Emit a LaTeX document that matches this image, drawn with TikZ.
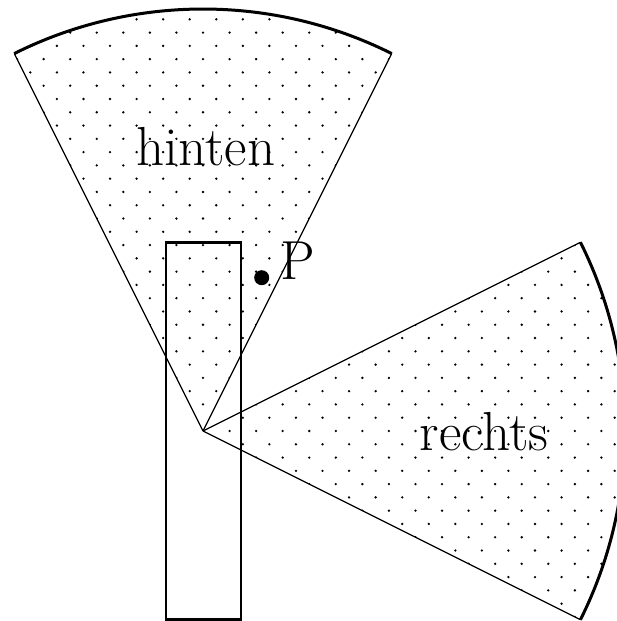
\documentclass[tikz,border=0pt]{standalone}
\newcommand\mydotgrid{%
  \foreach \i in {-16,-14,...,32} {\foreach \j in {-16,-14,...,32} {\fill ({203+\i*13.28},{190+\j*13.28}) circle (1.3pt);}}%
  \foreach \i in {-15,-13,...,31} {\foreach \j in {-15,-13,...,31} {\fill ({203+\i*13.28},{190+\j*13.28}) circle (1.3pt);}}%
}
\begin{document}
\begin{tikzpicture}[x=1pt,y=1pt,
  edge/.style={line width=1.2pt},
  rim/.style={line width=3pt},
  box/.style={line width=2.8pt},
  lbl/.style={inner sep=0pt, font=\fontsize{55}{60}\selectfont}]
\useasboundingbox (0,0) rectangle (617,621);
\clip (0,0) rectangle (617,621);
\coordinate (A) at (203,190);
% dots in sector "hinten"
\begin{scope}
  \clip (A) -- ++(63.43:422pt) arc[start angle=63.43,end angle=116.57,radius=422pt] -- cycle;
  \mydotgrid
\end{scope}
% dots in sector "rechts"
\begin{scope}
  \clip (A) -- ++(-26.57:422pt) arc[start angle=-26.57,end angle=26.57,radius=422pt] -- cycle;
  \mydotgrid
\end{scope}
% sector edges
\draw[edge] (A) -- ++(63.43:422pt);
\draw[edge] (A) -- ++(116.57:422pt);
\draw[edge] (A) -- ++(26.57:422pt);
\draw[edge] (A) -- ++(-26.57:422pt);
% rims
\draw[rim] (A) ++(63.43:422pt) arc[start angle=63.43,end angle=116.57,radius=422pt];
\draw[rim] (A) ++(-26.57:422pt) arc[start angle=-26.57,end angle=26.57,radius=422pt];
% rectangle
\draw[box] (166,1.5) rectangle (241,378.7);
% point P
\fill (261.7,343.3) circle (7.5pt);
\node[lbl,anchor=base west] (P) at (280,341.7) {P};
% labels
\node[lbl,anchor=base] (hinten) at (206,455.3) {hinten};
\node[lbl,anchor=base] (rechts) at (484,170.3) {rechts};
\end{tikzpicture}
\end{document}
